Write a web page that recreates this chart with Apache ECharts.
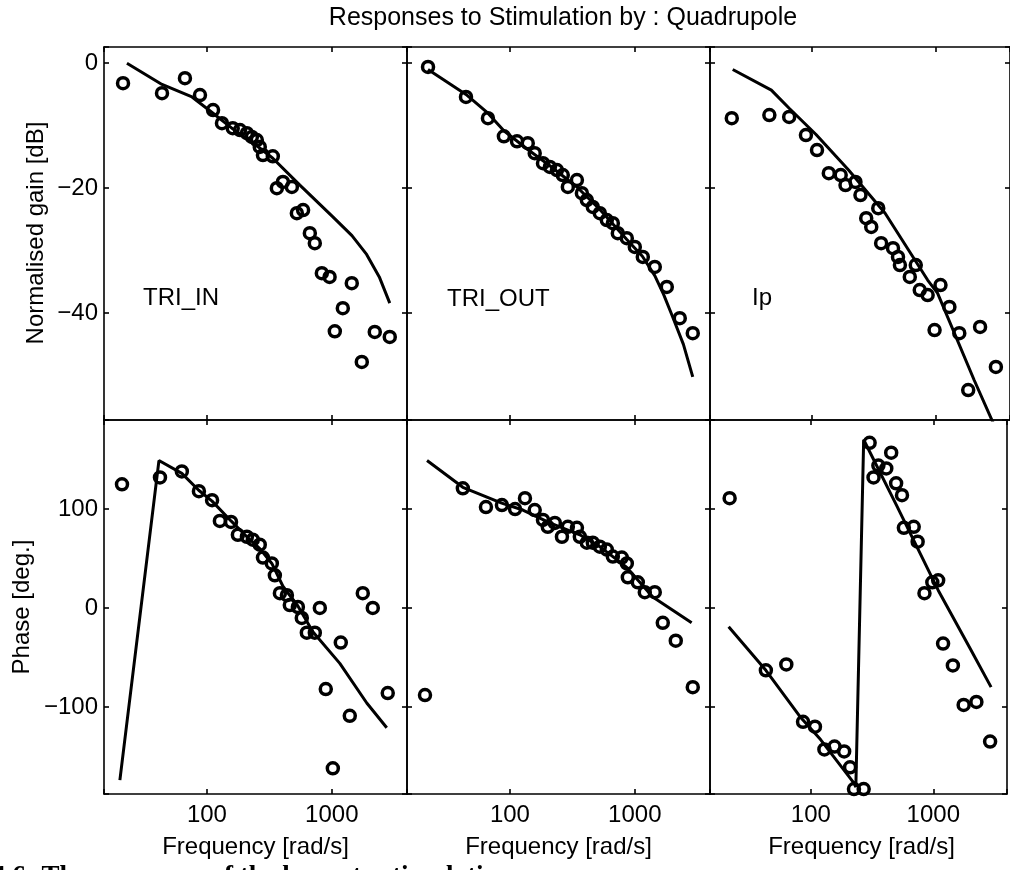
<!DOCTYPE html>
<html>
<head>
<meta charset="utf-8">
<script src="https://cdn.jsdelivr.net/npm/echarts@6/dist/echarts.min.js"></script>
<style>
  html, body { margin: 0; padding: 0; background: #ffffff; }
  #chart { width: 1010px; height: 870px; }
</style>
</head>
<body>
<div id="chart"></div>
<script>
// ---- Measured responses and fitted models (frequency in rad/s) ----

// TRI_IN, gain [dB]
const triInGainFreq = [21.3, 43.7, 66.7, 88, 112, 132, 161, 184, 209, 229, 251, 265, 281, 337, 363, 406, 479, 525, 589, 667, 731, 832, 960, 1057, 1225, 1445, 1738, 2208, 2911];
const triInGainDb   = [-3.2, -4.8, -2.4, -5.1, -7.5, -9.6, -10.4, -10.7, -11.2, -11.8, -12.3, -13.4, -14.7, -14.9, -20.0, -19.0, -19.8, -24.0, -23.5, -27.2, -28.8, -33.6, -34.2, -42.9, -39.2, -35.2, -47.8, -43.0, -43.8];
const triInGainFitFreq = [22.9, 43.7, 76, 112, 161, 251, 337, 555, 1020, 1450, 1900, 2400, 2911];
const triInGainFitDb   = [0, -3.4, -5.4, -8.0, -10.5, -13.2, -15.2, -19.5, -24.6, -27.6, -30.6, -34.2, -38.4];

// TRI_OUT, gain [dB]
const triOutGainFreq = [22.1, 44.5, 66.7, 89.5, 114, 139, 158, 184, 209, 238, 265, 291, 344, 377, 413, 461, 525, 597, 667, 731, 863, 1000, 1159, 1445, 1803, 2291, 2911];
const triOutGainDb   = [-0.6, -5.4, -8.8, -11.7, -12.5, -12.8, -14.4, -16.0, -16.6, -17.1, -17.9, -19.8, -18.7, -20.8, -21.9, -23.0, -24.0, -25.1, -25.6, -27.2, -28.0, -29.4, -31.0, -32.6, -35.8, -40.8, -43.2];
const triOutGainFitFreq = [22.1, 44.5, 66.7, 89.5, 139, 209, 344, 525, 863, 1150, 1445, 1700, 2000, 2450, 2911];
const triOutGainFitDb   = [-1.0, -5.0, -8.0, -10.8, -13.8, -16.4, -19.8, -23.4, -28.2, -30.9, -34.0, -37.0, -40.5, -45.0, -50.2];

// Ip, gain [dB]
const ipGainFreq = [22.5, 45.3, 65.5, 89.5, 110, 137, 171, 187, 225, 247, 275, 302, 344, 363, 453, 497, 515, 619, 692, 745, 863, 982, 1096, 1294, 1556, 1837, 2291, 3076];
const ipGainDb   = [-8.8, -8.3, -8.6, -11.5, -13.9, -17.6, -17.9, -19.5, -19.0, -21.1, -24.8, -26.2, -23.2, -28.8, -29.6, -31.0, -32.3, -34.2, -32.3, -36.3, -37.1, -42.7, -35.5, -39.0, -43.2, -52.3, -42.2, -48.6];
const ipGainFitFreq = [22.9, 47, 65.5, 108, 198, 391, 863, 1038, 2051, 3020];
const ipGainFitDb   = [-1.0, -4.3, -7.2, -11.4, -17.1, -24.0, -34.7, -36.8, -50.7, -58.2];

// TRI_IN, phase [deg.]
const triInPhaseFreq = [20.9, 42.1, 63, 86.3, 110, 127, 156, 177, 209, 233, 265, 281, 331, 350, 384, 437, 461, 535, 575, 631, 731, 802, 895, 1019, 1180, 1393, 1770, 2128, 2805];
const triInPhaseDeg  = [125, 132, 138, 118, 109, 88, 87, 74, 72, 69, 64, 51, 45, 33, 15, 13, 3, 1, -10, -25, -25, 0, -82, -162, -35, -109, 15, 0, -86];
const triInPhaseFitFreq = [20.1, 41.3, 63, 86, 110, 156, 209, 265, 331, 406, 535, 705, 1159, 1905, 2754];
const triInPhaseFitDeg  = [-174, 149, 136, 119, 108, 88, 72, 60, 45, 22, 2, -24, -56, -96, -121];

// TRI_OUT, phase [deg.]
const triOutPhaseFreq = [20.9, 42, 64.3, 86.3, 110, 132, 158, 184, 201, 229, 261, 291, 344, 363, 413, 461, 525, 597, 667, 787, 863, 879, 1057, 1202, 1445, 1675, 2128, 2911];
const triOutPhaseDeg  = [-88, 121, 102, 104, 100, 111, 99, 89, 82, 86, 72, 82, 81, 72, 66, 66, 62, 59, 52, 51, 45, 31, 26, 16, 16, -15, -33, -80];
const triOutPhaseFitFreq = [21.7, 42, 86, 127, 209, 363, 525, 863, 1393, 2000, 2851];
const triOutPhaseFitDeg  = [149, 122, 106, 99, 86, 74, 62, 41, 11, -2, -15];

// Ip, phase [deg.]
const ipPhaseFreq = [21.7, 42.9, 63, 86.3, 108, 129, 156, 187, 209, 225, 270, 302, 325, 356, 413, 453, 497, 555, 575, 692, 745, 847, 982, 1096, 1202, 1445, 1770, 2249, 2911];
const ipPhaseDeg  = [111, -63, -57, -115, -120, -143, -140, -145, -161, -183, -183, 167, 132, 144, 141, 157, 126, 114, 81, 82, 67, 15, 26, 28, -36, -58, -98, -95, -135];
const ipPhaseFitFreq = [21.3, 42.9, 83, 120, 225, 233, 270, 500, 1096, 2000, 2965];
const ipPhaseFitDeg  = [-19, -63, -111, -133, -177, -181, 170, 104, 18, -41, -80];

// Axis ranges and texts
const freqRange = [15, 4000];
const gainRange = [-57.1, 2.6];
const phaseRange = [-188, 190];
const panelNames = ['TRI_IN', 'TRI_OUT', 'Ip'];
const titleText = 'Responses to Stimulation by : Quadrupole';
const gainName = 'Normalised gain [dB]';
const phaseName = 'Phase [deg.]';
const freqName = 'Frequency [rad/s]';
const captionText = '4.6: The responses of the beam to stimulation';

// ---- Layout ----
const colLeft = [104, 407, 710];
const colWidth = 303;
const rowTop = [47, 420];
const rowHeight = [373, 374];
const FONT = "'Liberation Sans', Arial, Helvetica, sans-serif";

const panels = [
  { meas: [triInGainFreq, triInGainDb],   fit: [triInGainFitFreq, triInGainFitDb] },
  { meas: [triOutGainFreq, triOutGainDb], fit: [triOutGainFitFreq, triOutGainFitDb] },
  { meas: [ipGainFreq, ipGainDb],         fit: [ipGainFitFreq, ipGainFitDb] },
  { meas: [triInPhaseFreq, triInPhaseDeg],   fit: [triInPhaseFitFreq, triInPhaseFitDeg] },
  { meas: [triOutPhaseFreq, triOutPhaseDeg], fit: [triOutPhaseFitFreq, triOutPhaseFitDeg] },
  { meas: [ipPhaseFreq, ipPhaseDeg],         fit: [ipPhaseFitFreq, ipPhaseFitDeg] }
];

const zip = (xs, ys) => xs.map((x, i) => [x, ys[i]]);

const lineStyle = { color: '#000', width: 1.6 };
const axisLine = { show: true, onZero: false, lineStyle };
const axisTick = { show: true, inside: true, length: 5, lineStyle };

function decadeLabel(v) {
  const l = Math.log10(v);
  return Math.abs(l - Math.round(l)) < 1e-6 ? String(Math.round(v)) : '';
}
function stepLabel(step) {
  return function (v) {
    if (Math.abs(v / step - Math.round(v / step)) > 1e-6) return '';
    return String(Math.round(v)).replace('-', '\u2212');
  };
}

const grid = [], xAxis = [], yAxis = [], series = [];

panels.forEach((p, i) => {
  const r = Math.floor(i / 3), c = i % 3;
  grid.push({ left: colLeft[c], top: rowTop[r], width: colWidth, height: rowHeight[r], containLabel: false });

  const yr = r === 0 ? gainRange : phaseRange;
  const ySplit = r === 0 ? 3 : 4;
  const yStep = r === 0 ? 20 : 100;

  ['bottom', 'top'].forEach(pos => {
    xAxis.push({
      type: 'log', logBase: 10, gridIndex: i, position: pos,
      min: freqRange[0], max: freqRange[1],
      axisLine, axisTick, splitLine: { show: false }, minorTick: { show: false },
      axisLabel: {
        show: pos === 'bottom' && r === 1, formatter: decadeLabel,
        color: '#000', fontSize: 24, fontFamily: FONT, margin: 9
      }
    });
  });
  ['left', 'right'].forEach(pos => {
    yAxis.push({
      type: 'value', gridIndex: i, position: pos,
      min: yr[0], max: yr[1], splitNumber: ySplit,
      axisLine, axisTick, splitLine: { show: false },
      axisLabel: {
        show: pos === 'left' && c === 0, formatter: stepLabel(yStep),
        color: '#000', fontSize: 24, fontFamily: FONT, margin: 6,
        showMinLabel: true, showMaxLabel: true
      }
    });
  });

  series.push({
    type: 'line', xAxisIndex: 2 * i, yAxisIndex: 2 * i,
    data: zip(p.fit[0], p.fit[1]),
    showSymbol: false, symbol: 'none', clip: true,
    lineStyle: { color: '#000', width: 3 }, z: 2
  });
  series.push({
    type: 'scatter', xAxisIndex: 2 * i, yAxisIndex: 2 * i,
    data: zip(p.meas[0], p.meas[1]),
    symbol: 'circle', symbolSize: 11, clip: true,
    itemStyle: { color: 'rgba(0,0,0,0)', borderColor: '#000', borderWidth: 3.5, opacity: 1 }, z: 3
  });
});

const text = (t, x, y, opts = {}) => ({
  type: 'text', x, y, rotation: opts.rotation || 0, z: 10,
  style: {
    text: t, fill: '#000',
    font: (opts.weight || 'normal') + ' ' + (opts.size || 24) + 'px ' + (opts.family || FONT),
    textAlign: opts.align || 'center', textVerticalAlign: 'middle'
  }
});

const graphic = [
  text(titleText, 563, 18, { size: 25 }),
  text(gainName, 36, 233, { size: 24, rotation: Math.PI / 2 }),
  text(phaseName, 22, 607, { size: 24, rotation: Math.PI / 2 }),
  text(panelNames[0], 143, 298, { align: 'left' }),
  text(panelNames[1], 447, 299, { align: 'left' }),
  text(panelNames[2], 752, 298, { align: 'left' }),
  text(freqName, colLeft[0] + colWidth / 2, 847, { size: 24 }),
  text(freqName, colLeft[1] + colWidth / 2, 847, { size: 24 }),
  text(freqName, colLeft[2] + colWidth / 2, 847, { size: 24 }),
  text(captionText, -8, 877, { align: 'left', size: 27, weight: 'bold', family: "'Liberation Serif', 'Times New Roman', serif" })
];

const chart = echarts.init(document.getElementById('chart'), null, { renderer: 'canvas' });
chart.setOption({
  animation: false,
  backgroundColor: '#ffffff',
  grid, xAxis, yAxis, series, graphic
});
</script>
</body>
</html>
